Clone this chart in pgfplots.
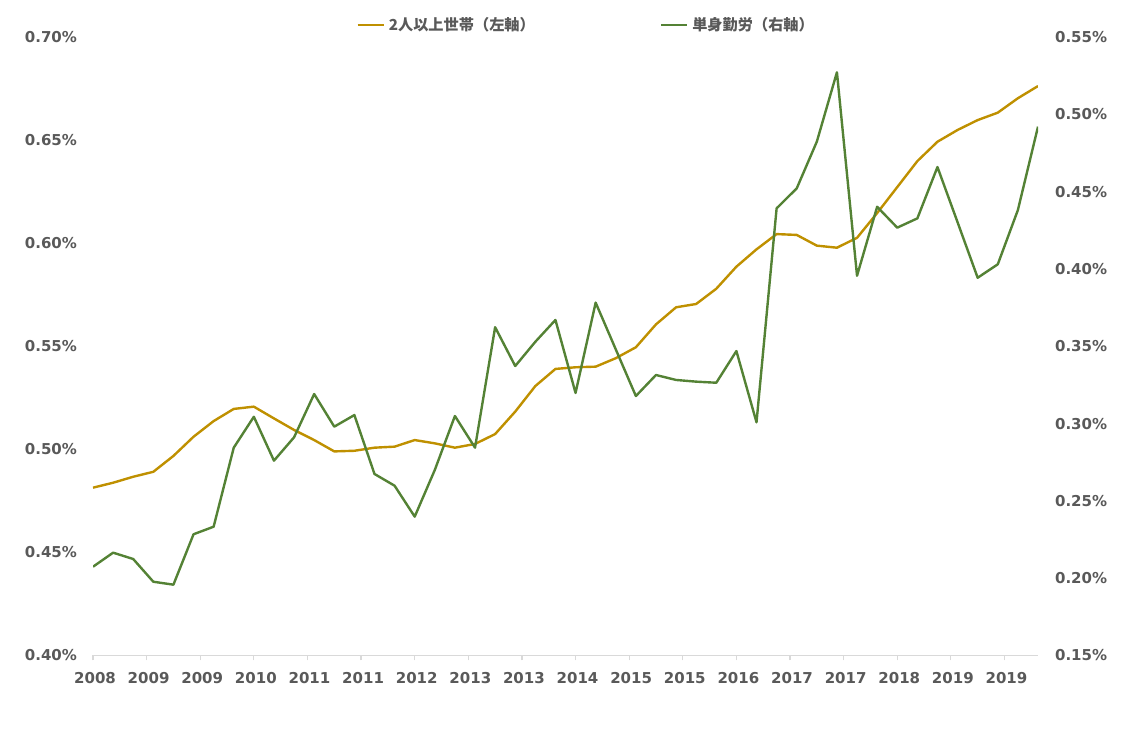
\documentclass[border=0pt]{standalone}
\usepackage{pgfplots}
\usepackage{pgfplotstable}
\pgfplotsset{compat=1.18}
\usepackage{fontspec}
\setmainfont{DejaVu Sans}
\newfontfamily\jp{Noto Sans CJK JP}
\definecolor{gold}{HTML}{BF9000}
\definecolor{grn}{HTML}{548235}
\definecolor{tickgray}{HTML}{595959}
\definecolor{axgray}{HTML}{D9D9D9}

\pgfplotstableread{
i two single
0 0.4814 0.2074
1 0.4838 0.2165
2 0.4867 0.2124
3 0.4891 0.1977
4 0.4968 0.1958
5 0.5061 0.2284
6 0.5137 0.2333
7 0.5196 0.2844
8 0.5207 0.3044
9 0.5150 0.2760
10 0.5094 0.2911
11 0.5045 0.3191
12 0.4990 0.2980
13 0.4993 0.3055
14 0.5008 0.2674
15 0.5013 0.2598
16 0.5045 0.2398
17 0.5029 0.2700
18 0.5008 0.3049
19 0.5026 0.2844
20 0.5074 0.3623
21 0.5183 0.3372
22 0.5307 0.3529
23 0.5390 0.3670
24 0.5398 0.3198
25 0.5401 0.3782
26 0.5442 0.3480
27 0.5495 0.3178
28 0.5606 0.3314
29 0.5689 0.3282
30 0.5705 0.3271
31 0.5779 0.3264
32 0.5886 0.3469
33 0.5970 0.3008
34 0.6044 0.4392
35 0.6040 0.4521
36 0.5988 0.4823
37 0.5978 0.5272
38 0.6026 0.3956
39 0.6146 0.4402
40 0.6272 0.4267
41 0.6398 0.4327
42 0.6492 0.4659
43 0.6549 0.4302
44 0.6597 0.3943
45 0.6633 0.4030
46 0.6703 0.4381
47 0.6762 0.4920
}\data

\pgfplotsset{
  base/.style={
    at={(46.5pt,44.25pt)}, anchor=south west, scale only axis,
    width=472.5pt, height=309.25pt,
    xmin=0, xmax=47,
    /pgf/number format/assume math mode=true,
    ticklabel style={font=\bfseries\fontsize{7.5}{9}\selectfont, text=tickgray},
    axis line style={-},
  },
}

\begin{document}
\begin{tikzpicture}
\path[use as bounding box] (0,0) rectangle (565.5pt,372pt);
\begin{axis}[base,
  ymin=0.40, ymax=0.70,
  ytick={0.40,0.45,0.50,0.55,0.60,0.65,0.70},
  yticklabel={\pgfmathprintnumber[fixed,fixed zerofill,precision=2]{\tick}\%},
  axis x line*=bottom, axis y line*=left,
  y axis line style={draw=none},
  ytick style={draw=none},
  x axis line style={draw=axgray, line width=0.6pt},
  xtick={0,2.6667,5.3333,8,10.6667,13.3333,16,18.6667,21.3333,24,26.6667,29.3333,32,34.6667,37.3333,40,42.6667,45.3333},
  xticklabels={2008,2009,2009,2010,2011,2011,2012,2013,2013,2014,2015,2015,2016,2017,2017,2018,2019,2019},
  xtick style={draw=axgray, line width=0.6pt},
  x tick label style={yshift=-2.5pt, xshift=1pt},
  y tick label style={xshift=-2pt},
  tick align=outside, major tick length=2.5pt,
  legend columns=2,
  legend style={draw=none, fill=none, inner sep=0pt,
    font=\jp\bfseries\fontsize{7.6}{9.5}\selectfont, text=tickgray,
    at={(axis description cs:0.2783,1.0194)}, anchor=west,
    /tikz/every even column/.append style={column sep=60.5pt}},
  legend cell align=left,
  legend image code/.code={\draw[#1] (0pt,0pt) -- (13pt,0pt);},
]
\addplot[gold, line width=1.2pt, line join=round] table[x=i, y=two] {\data};
\addlegendentry{2人以上世帯（左軸）}
\addlegendimage{grn, line width=1.2pt}
\addlegendentry{単身勤労（右軸）}
\end{axis}
\begin{axis}[base,
  ymin=0.15, ymax=0.55,
  ytick={0.15,0.20,0.25,0.30,0.35,0.40,0.45,0.50,0.55},
  yticklabel={\pgfmathprintnumber[fixed,fixed zerofill,precision=2]{\tick}\%},
  axis y line*=right, axis x line=none,
  y axis line style={draw=none},
  ytick style={draw=none},
  y tick label style={xshift=5pt},
]
\addplot[grn, line width=1.2pt, line join=round] table[x=i, y=single] {\data};
\end{axis}
\end{tikzpicture}
\end{document}
